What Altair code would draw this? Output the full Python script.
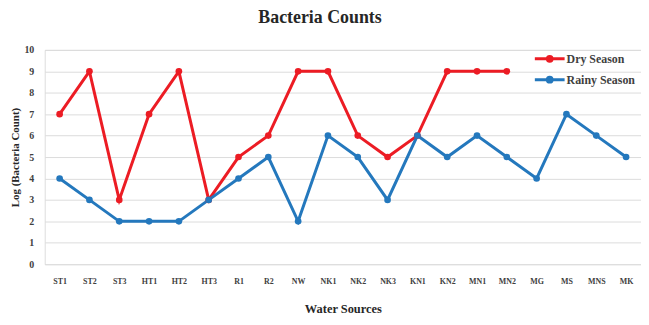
import altair as alt
import pandas as pd

sources = ["ST1", "ST2", "ST3", "HT1", "HT2", "HT3", "R1", "R2", "NW", "NK1",
           "NK2", "NK3", "KN1", "KN2", "MN1", "MN2", "MG", "MS", "MNS", "MK"]
dry = [7, 9, 3, 7, 9, 3, 5, 6, 9, 9, 6, 5, 6, 9, 9, 9, None, None, None, None]
rainy = [4, 3, 2, 2, 2, 3, 4, 5, 2, 6, 5, 3, 6, 5, 6, 5, 4, 7, 6, 5]
series = ["Dry Season", "Rainy Season"]
colors = ["#ec1c24", "#2478bd"]

rows = []
for s, d, r in zip(sources, dry, rainy):
    if d is not None:
        rows.append({"source": s, "value": d, "season": series[0]})
    rows.append({"source": s, "value": r, "season": series[1]})
df = pd.DataFrame(rows)

FONT = "Liberation Serif"
legend_symbol = "M-2,0L2,0M-0.32,0A0.32,0.32 0 1,1 0.32,0A0.32,0.32 0 1,1 -0.32,0Z"

x = alt.X("source:O", sort=sources, scale=alt.Scale(type="point", padding=0.5),
          axis=alt.Axis(title="Water Sources", labelAngle=0, labelFont=FONT,
                        labelFontWeight="bold", labelFontSize=8, labelColor="#404040",
                        labelPadding=13, domain=False, ticks=False,
                        titleFont=FONT, titleFontSize=12.5, titleFontWeight="bold",
                        titleColor="#262626", titlePadding=18))
y = alt.Y("value:Q", scale=alt.Scale(domain=[0, 10]),
          axis=alt.Axis(title="Log (Bacteria Count)", values=list(range(0, 11)),
                        labelFont=FONT, labelFontWeight="bold", labelFontSize=10,
                        labelColor="#404040", labelPadding=11, domain=False, ticks=False,
                        grid=True, gridColor="#dcdcdc", gridWidth=1,
                        titleFont=FONT, titleFontSize=11, titleFontWeight="bold",
                        titleColor="#262626", titlePadding=3))
color = alt.Color("season:N", scale=alt.Scale(domain=series, range=colors),
                  legend=alt.Legend(title=None, orient="none", legendX=500, legendY=0,
                                    symbolType=legend_symbol, symbolSize=225,
                                    symbolStrokeWidth=3, labelFont=FONT,
                                    labelFontWeight="bold", labelFontSize=12,
                                    labelColor="#404040", labelOffset=8, rowPadding=3))

base = alt.Chart(df).encode(x=x, y=y, color=color, detail="season:N")
lines = base.mark_line(strokeWidth=3)
points = base.mark_point(filled=True, size=45, opacity=1)

chart = alt.layer(lines, points).properties(
    width=601, height=216,
    title=alt.TitleParams("Bacteria Counts", font=FONT, fontSize=18, fontWeight="bold",
                          color="#262626", anchor="middle", dx=-23, offset=18),
    autosize=alt.AutoSizeParams(type="none"),
    padding={"left": 37, "top": 41, "right": 0, "bottom": 52},
).configure_view(stroke=None).configure_legend(
    labelFont=FONT, labelFontWeight="bold"
).configure(background="white")

chart.save("out.html", embed_options={"renderer": "svg", "actions": False})
